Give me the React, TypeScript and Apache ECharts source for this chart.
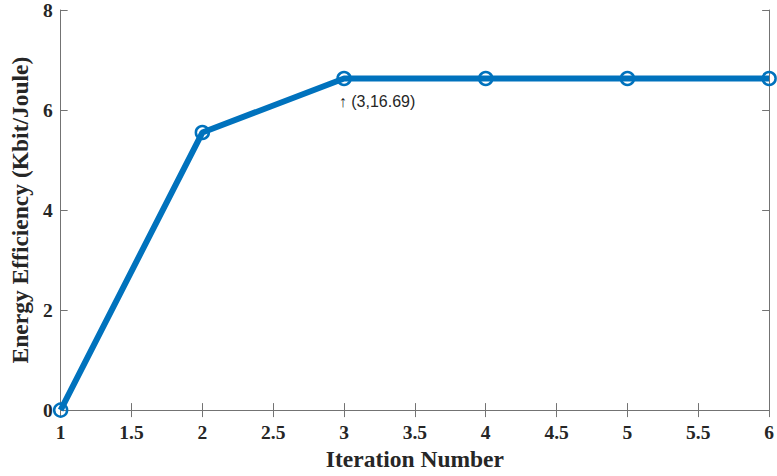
import React, { useEffect, useRef } from "react";
import * as echarts from "echarts";

const iterations = [1, 2, 3, 4, 5, 6];
const efficiency = [0, 5.55, 6.63, 6.63, 6.63, 6.63];
const annotationIndex = 2;
const annotationText = "\u2191 (3,16.69)";
const xTitle = "Iteration Number";
const yTitle = "Energy Efficiency (Kbit/Joule)";

const SERIF = "'Liberation Serif', 'Times New Roman', serif";
const TEXT = "#262626";
const AXIS = "#737373";
const BLUE = "#0072BD";

export default function App() {
  const ref = useRef<HTMLDivElement>(null);
  useEffect(() => {
    document.body.style.margin = "0";
    const chart = echarts.init(ref.current!, null, { renderer: "svg" });
    const data = iterations.map((x, i) => {
      const item: any = { value: [x, efficiency[i]] };
      if (i === annotationIndex) {
        item.label = {
          show: true,
          formatter: annotationText,
          position: [2.5, 31],
          align: "left",
          verticalAlign: "middle",
          color: TEXT,
          fontFamily: "'Liberation Sans', Arial, sans-serif",
          fontSize: 16,
        };
      }
      return item;
    });
    const tickLabel = {
      fontFamily: SERIF,
      fontWeight: "bold" as const,
      fontSize: 19.5,
      color: TEXT,
    };
    const titleStyle = { fontFamily: SERIF, fontWeight: "bold", fontSize: 23.5, color: TEXT };
    chart.setOption({
      animation: false,
      backgroundColor: "#ffffff",
      grid: { left: 57, right: 4, top: 7, bottom: 64 },
      xAxis: [
        {
          type: "value",
          min: 1,
          max: 6,
          interval: 0.5,
          name: xTitle,
          nameLocation: "middle",
          nameGap: 33,
          nameTextStyle: titleStyle,
          axisLine: { show: true, lineStyle: { color: AXIS, width: 1 } },
          axisTick: { show: true, inside: true, length: 7, lineStyle: { color: AXIS } },
          axisLabel: { ...tickLabel, margin: 12 },
          splitLine: { show: false },
        },
        {
          type: "value",
          position: "top",
          min: 1,
          max: 6,
          interval: 0.5,
          axisLine: { show: true, lineStyle: { color: AXIS, width: 1 } },
          axisTick: { show: true, inside: true, length: 7, lineStyle: { color: AXIS } },
          axisLabel: { show: false },
          splitLine: { show: false },
        },
      ],
      yAxis: [
        {
          type: "value",
          min: 0,
          max: 8,
          interval: 2,
          name: yTitle,
          nameLocation: "middle",
          nameGap: 23,
          nameTextStyle: titleStyle,
          axisLine: { show: true, lineStyle: { color: AXIS, width: 1 } },
          axisTick: { show: true, inside: true, length: 7, lineStyle: { color: AXIS } },
          axisLabel: { ...tickLabel, margin: 8 },
          splitLine: { show: false },
        },
        {
          type: "value",
          position: "right",
          min: 0,
          max: 8,
          interval: 2,
          axisLine: { show: true, lineStyle: { color: AXIS, width: 1 } },
          axisTick: { show: true, inside: true, length: 7, lineStyle: { color: AXIS } },
          axisLabel: { show: false },
          splitLine: { show: false },
        },
      ],
      series: [
        {
          type: "line",
          xAxisIndex: 0,
          yAxisIndex: 0,
          data,
          clip: false,
          symbol: "circle",
          symbolSize: 13,
          showAllSymbol: true,
          lineStyle: { color: BLUE, width: 6 },
          itemStyle: { color: "rgba(0,0,0,0)", borderColor: BLUE, borderWidth: 2.5 },
          emphasis: { disabled: true },
        },
      ],
    });
    return () => chart.dispose();
  }, []);
  return (
    <div
      ref={ref}
      style={{ position: "fixed", left: 0, top: 0, width: 777, height: 476 }}
    />
  );
}
